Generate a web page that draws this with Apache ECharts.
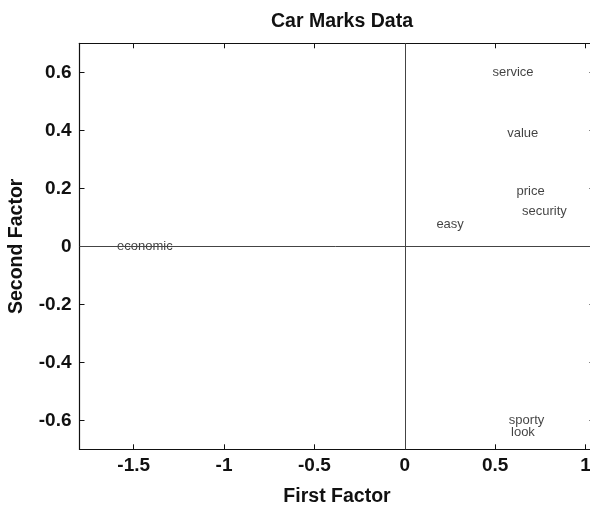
<!DOCTYPE html>
<html>
<head>
<meta charset="utf-8">
<script src="https://cdn.jsdelivr.net/npm/echarts@6/dist/echarts.min.js"></script>
<style>
html,body{margin:0;padding:0;background:#fff;}
#chart{width:590px;height:506px;}
</style>
</head>
<body>
<div id="chart"></div>
<script>
// Data
const labels = ['service', 'value', 'price', 'security', 'easy', 'economic', 'sporty', 'look'];
const firstFactor = [0.485, 0.567, 0.618, 0.649, 0.175, -1.592, 0.576, 0.588];
const secondFactor = [0.600, 0.390, 0.190, 0.121, 0.075, 0.000, -0.601, -0.642];
const xTickValues = [-1.5, -1, -0.5, 0, 0.5, 1];
const yTickValues = [-0.6, -0.4, -0.2, 0, 0.2, 0.4, 0.6];
const xRange = [-1.8, 1.05];
const yRange = [-0.7, 0.7];

const FONT = "'Liberation Sans', Arial, Helvetica, sans-serif";
const points = labels.map((n, i) => ({ value: [firstFactor[i], secondFactor[i]], name: n }));

const chart = echarts.init(document.getElementById('chart'), null, { renderer: 'canvas' });

function xAxisDef(pos, showLabel, name) {
  return {
    type: 'value', position: pos, min: xRange[0], max: xRange[1],
    name: name || '', nameLocation: 'middle', nameGap: 47.5,
    nameTextStyle: { fontFamily: FONT, fontWeight: 'bold', fontSize: 19.5, color: '#111', verticalAlign: 'middle' },
    axisLine: { show: true, onZero: false, lineStyle: { color: '#111', width: 1.2 } },
    axisTick: { show: true, inside: true, length: 5, customValues: xTickValues, lineStyle: { color: '#111', width: 1 } },
    axisLabel: { show: showLabel, customValues: xTickValues, margin: 7, fontFamily: FONT, fontWeight: 'bold', fontSize: 19, color: '#111' },
    splitLine: { show: false }
  };
}
function yAxisDef(pos, showLabel, name) {
  return {
    type: 'value', position: pos, min: yRange[0], max: yRange[1],
    name: name || '', nameLocation: 'middle', nameGap: 62.5, nameRotate: 90,
    nameTextStyle: { fontFamily: FONT, fontWeight: 'bold', fontSize: 19.5, color: '#111', verticalAlign: 'middle' },
    axisLine: { show: true, onZero: false, lineStyle: { color: '#111', width: 1.2 } },
    axisTick: { show: true, inside: true, length: 5, customValues: yTickValues, lineStyle: { color: '#111', width: 1 } },
    axisLabel: { show: showLabel, customValues: yTickValues, margin: 8, fontFamily: FONT, fontWeight: 'bold', fontSize: 19, color: '#111' },
    splitLine: { show: false }
  };
}

chart.setOption({
  animation: false,
  backgroundColor: '#ffffff',
  title: {
    text: 'Car Marks Data',
    left: 337, top: 7, textAlign: 'center',
    textStyle: { fontFamily: FONT, fontWeight: 'bold', fontSize: 19.5, color: '#111' }
  },
  grid: { left: 79.5, top: 43.3, width: 515, height: 406, containLabel: false, outerBoundsMode: 'none' },
  xAxis: [xAxisDef('bottom', true, 'First Factor'), xAxisDef('top', false)],
  yAxis: [yAxisDef('left', true, 'Second Factor'), yAxisDef('right', false)],
  series: [{
    type: 'scatter',
    xAxisIndex: 0, yAxisIndex: 0,
    symbolSize: 0,
    data: points,
    label: {
      show: true, position: 'right', distance: 0,
      formatter: p => p.name,
      fontFamily: FONT, fontSize: 13, color: '#111'
    },
    markLine: {
      silent: true, symbol: 'none', label: { show: false },
      lineStyle: { color: '#444', width: 1, type: 'solid' },
      data: [{ xAxis: 0 }, { yAxis: 0 }]
    }
  }]
});
</script>
</body>
</html>
